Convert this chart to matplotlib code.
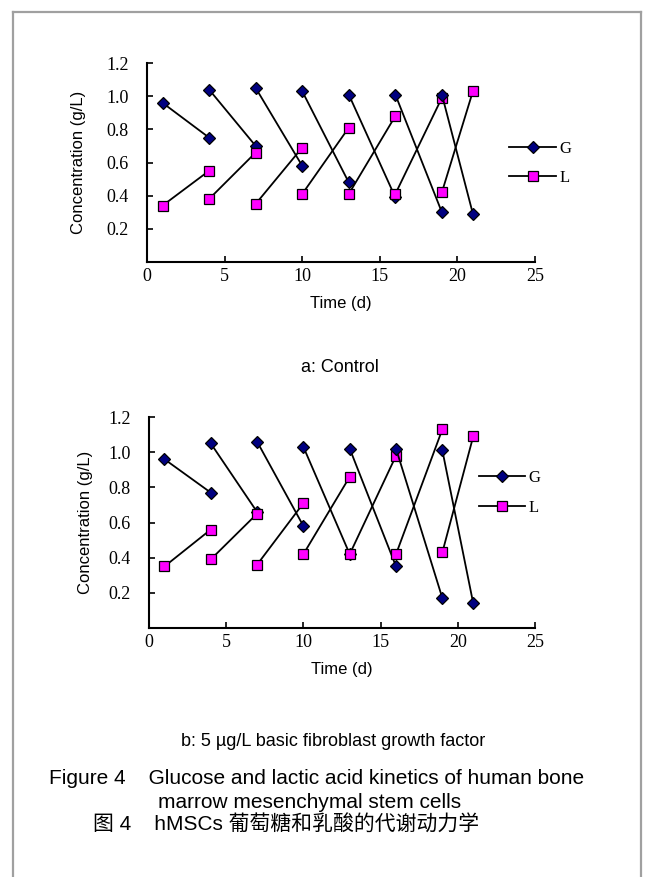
import matplotlib
matplotlib.use("Agg")
import matplotlib.pyplot as plt
from matplotlib.lines import Line2D

# Each series is a set of segments: value right after medium change (start)
# and value just before the next change (end)
seg_start_days = [1, 4, 7, 10, 13, 16, 19]
seg_end_days = [4, 7, 10, 13, 16, 19, 21]

# a: Control
ctrl_G_start = [0.96, 1.04, 1.05, 1.03, 1.01, 1.01, 1.01]
ctrl_G_end = [0.75, 0.70, 0.58, 0.48, 0.39, 0.30, 0.29]
ctrl_L_start = [0.34, 0.38, 0.35, 0.41, 0.41, 0.41, 0.42]
ctrl_L_end = [0.55, 0.66, 0.69, 0.81, 0.88, 0.99, 1.03]

# b: bFGF
bfgf_G_start = [0.96, 1.05, 1.06, 1.03, 1.02, 1.02, 1.01]
bfgf_G_end = [0.77, 0.66, 0.58, 0.42, 0.35, 0.17, 0.14]
bfgf_L_start = [0.35, 0.39, 0.36, 0.42, 0.42, 0.42, 0.43]
bfgf_L_end = [0.56, 0.65, 0.71, 0.86, 0.98, 1.13, 1.09]

x_ticks = [0, 5, 10, 15, 20, 25]
y_ticks = [0.2, 0.4, 0.6, 0.8, 1.0, 1.2]

serif = "Liberation Serif"
sans = "Liberation Sans"

fig = plt.figure(figsize=(6.46, 8.77), dpi=100)
W, H = 646, 877


def draw_panel(ax, G0, G1, L0, L1, legend_anchor, ylabelpad):
    for i in range(len(seg_start_days)):
        xs = [seg_start_days[i], seg_end_days[i]]
        ax.plot(xs, [G0[i], G1[i]], color="black", lw=1.3, marker="D",
                ms=6.5, mfc="#000080", mec="black", mew=0.9,
                label="G" if i == 0 else None, zorder=3)
        ax.plot(xs, [L0[i], L1[i]], color="black", lw=1.3, marker="s",
                ms=7, mfc="#ff00ff", mec="black", mew=0.9,
                label="L" if i == 0 else None, zorder=3)
    ax.set_xlim(0, 25)
    ax.set_ylim(0, 1.2)
    ax.set_xticks(x_ticks)
    ax.set_yticks(y_ticks)
    ax.set_xticklabels([str(t) for t in x_ticks], fontfamily=serif, fontsize=13)
    ax.set_yticklabels(["%.1f" % t for t in y_ticks], fontfamily=serif, fontsize=13)
    ax.tick_params(direction="in", length=4, width=1.2)
    ax.tick_params(axis="x", pad=4)
    ax.tick_params(axis="y", pad=13)
    for s in ["top", "right"]:
        ax.spines[s].set_visible(False)
    for s in ["left", "bottom"]:
        ax.spines[s].set_linewidth(1.5)
    ax.set_xlabel("Time (d)", fontfamily=sans, fontsize=12, labelpad=8)
    ax.set_ylabel("Concentration (g/L)", fontfamily=sans, fontsize=12,
                  labelpad=ylabelpad)
    ax.legend(loc="center left", bbox_to_anchor=legend_anchor, frameon=False,
              handlelength=2.8, handletextpad=0.2, labelspacing=0.8,
              prop={"family": serif, "size": 12})


ax1 = fig.add_axes([147 / W, 1 - 262 / H, (535 - 147) / W, (262 - 63) / H])
draw_panel(ax1, ctrl_G_start, ctrl_G_end, ctrl_L_start, ctrl_L_end,
           (0.895, 0.495), 15)

ax2 = fig.add_axes([149 / W, 1 - 628 / H, (535 - 149) / W, (628 - 417) / H])
draw_panel(ax2, bfgf_G_start, bfgf_G_end, bfgf_L_start, bfgf_L_end,
           (0.815, 0.64), 11)

fig.text(340 / W, 1 - 367 / H, "a: Control", ha="center", va="center",
         fontfamily=sans, fontsize=13)
fig.text(333 / W, 1 - 742 / H, "b: 5 µg/L basic fibroblast growth factor",
         ha="center", va="center", fontfamily=sans, fontsize=13)

fig.text(49 / W, 1 - 778 / H, "Figure 4    Glucose and lactic acid kinetics of human bone",
         ha="left", va="center", fontfamily=sans, fontsize=15)
fig.text(158 / W, 1 - 802 / H, "marrow mesenchymal stem cells",
         ha="left", va="center", fontfamily=sans, fontsize=15)
fig.text(93 / W, 1 - 825 / H, "图 4    hMSCs 葡萄糖和乳酸的代谢动力学",
         ha="left", va="center", fontfamily=[sans, "Noto Sans CJK SC"], fontsize=15)

# gray frame around the figure (open at the bottom)
frame_kw = dict(color="#a0a0a0", lw=1.6, transform=fig.transFigure)
fig.add_artist(Line2D([13 / W, 13 / W], [1 - 12 / H, 0], **frame_kw))
fig.add_artist(Line2D([641 / W, 641 / W], [1 - 12 / H, 0], **frame_kw))
fig.add_artist(Line2D([13 / W, 641 / W], [1 - 12 / H, 1 - 12 / H], **frame_kw))

fig.savefig("out.png", dpi=100)
